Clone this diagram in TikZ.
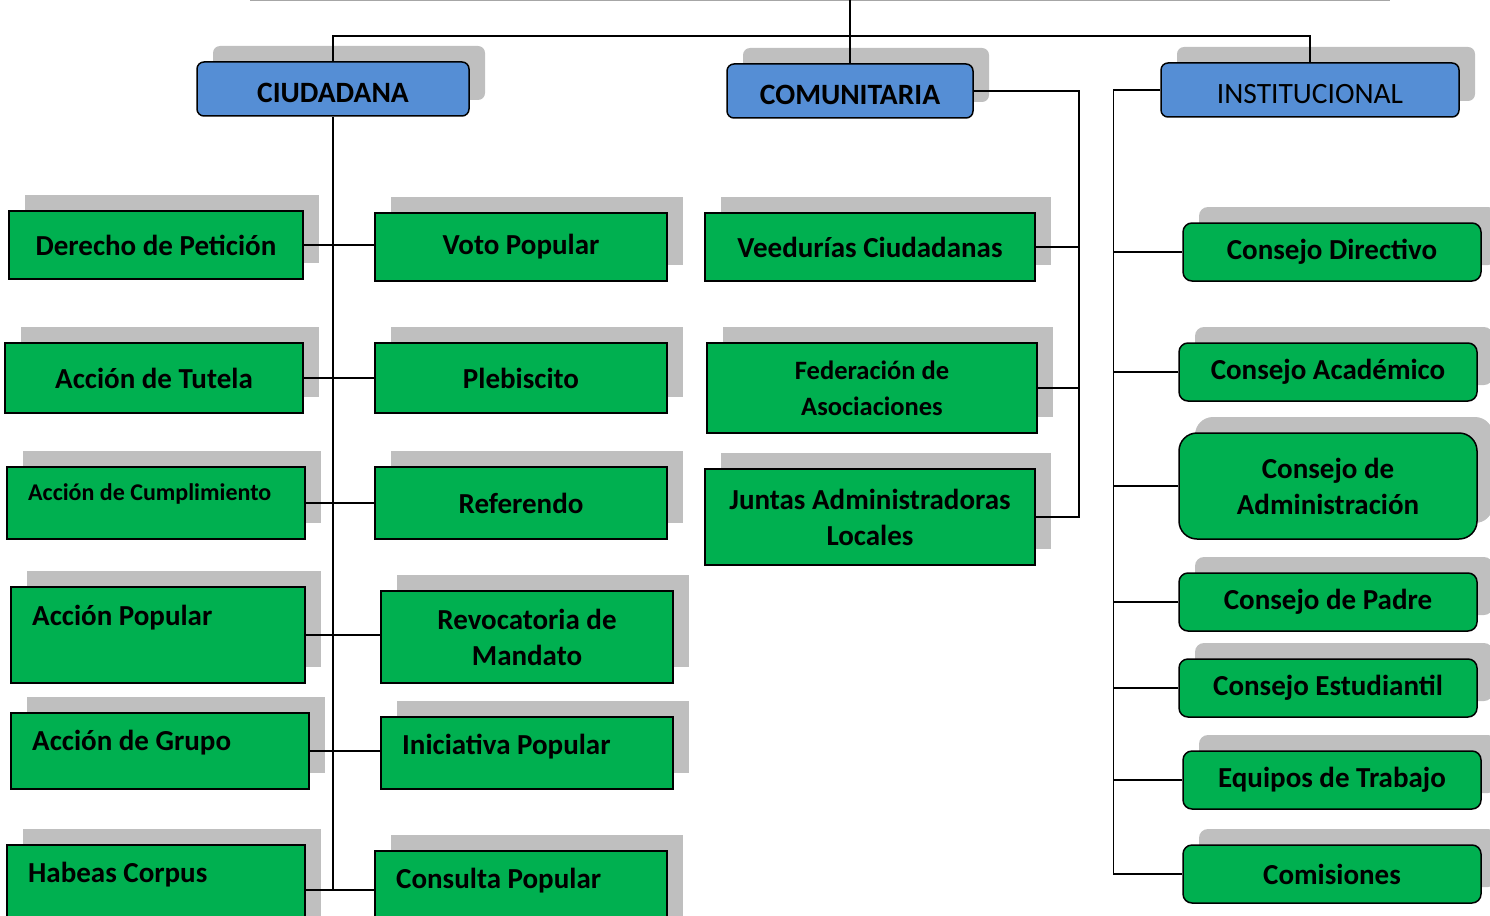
\documentclass[tikz,border=0pt]{standalone}
\usepackage{fontspec}
\setmainfont{Carlito}
\usetikzlibrary{shadows}
\definecolor{hblue}{HTML}{558ED5}
\definecolor{bgreen}{HTML}{00B050}
\definecolor{sgray}{HTML}{BFBFBF}
\begin{document}
\begin{tikzpicture}
[x=1pt,y=-1pt,
 ln/.style={line width=1.5pt},
 sh/.style={general shadow={fill=sgray,draw=none,shadow xshift=16pt,shadow yshift=16pt}},
 hd/.style={draw,sh,fill=hblue,line width=1.5pt,rounded corners=7pt,minimum height=54pt,text height=27pt,font=\fontsize{29.5}{32}\selectfont\bfseries},
 gb/.style={draw,sh,fill=bgreen,line width=1.5pt,align=center,font=\fontsize{29}{36}\selectfont\bfseries},
 gr/.style={gb,rounded corners=9pt},
 tx/.style={anchor=west,inner sep=0pt,font=\fontsize{29}{36}\selectfont\bfseries}]
\useasboundingbox (0,0) rectangle (1490,915);
\draw [gray!70,line width=2pt] (250,0) -- (1390,0);

\node [hd,minimum width=272] at (333,89) (ciu) {CIUDADANA};
\node [hd,minimum width=246] at (850,91) (com) {COMUNITARIA};
\node [hd,minimum width=298,font=\fontsize{29.5}{32}\selectfont] at (1310,90) (ins) {INSTITUCIONAL};

\node [gb,minimum width=294,minimum height=68] at (156,245) (dpet) {Derecho de Petición};
\node [gb,minimum width=292,minimum height=68] at (521,247) (voto) {Voto Popular};
\node [gb,minimum width=298,minimum height=70] at (154,378) (tut) {Acción de Tutela};
\node [gb,minimum width=292,minimum height=70] at (521,378) (pleb) {Plebiscito};
\node [gb,minimum width=298,minimum height=72] at (156,503) (cump) {};
\node [tx,font=\fontsize{24}{26}\selectfont\bfseries] at (28,494) (cumpt) {Acción de Cumplimiento};
\node [gb,minimum width=292,minimum height=72] at (521,503) (ref) {Referendo};
\node [gb,minimum width=294,minimum height=96] at (158,635) (apop) {};
\node [tx] at (32,618) (apopt) {Acción Popular};
\node [gb,minimum width=292,minimum height=92] at (527,637) (rev) {Revocatoria de\\Mandato};
\node [gb,minimum width=298,minimum height=76] at (160,751) (agr) {};
\node [tx] at (32,743) (agrt) {Acción de Grupo};
\node [gb,minimum width=292,minimum height=72] at (527,753) (ini) {};
\node [tx] at (402,747) (init) {Iniciativa Popular};
\node [gb,minimum width=298,minimum height=90] at (156,890) (hab) {};
\node [tx] at (28,875) (habt) {Habeas Corpus};
\node [gb,minimum width=292,minimum height=84] at (521,893) (cpop) {};
\node [tx] at (396,881) (cpopt) {Consulta Popular};

\node [gb,minimum width=330,minimum height=68] at (870,247) (vee) {Veedurías Ciudadanas};
\node [gb,minimum width=330,minimum height=90,font=\fontsize{26.5}{36}\selectfont\bfseries] at (872,388) (fed) {Federación de\\Asociaciones};
\node [gb,minimum width=330,minimum height=96] at (870,517) (jun) {Juntas Administradoras\\Locales};

\node [gr,minimum width=298,minimum height=58] at (1332,252) (cdir) {Consejo Directivo};
\node [gr,minimum width=298,minimum height=58] at (1328,372) (caca) {Consejo Académico};
\node [gr,minimum width=298,minimum height=106,rounded corners=18pt] at (1328,486) (cadm) {Consejo de\\Administración};
\node [gr,minimum width=298,minimum height=58] at (1328,602) (cpad) {Consejo de Padre};
\node [gr,minimum width=298,minimum height=58] at (1328,688) (cest) {Consejo Estudiantil};
\node [gr,minimum width=298,minimum height=58] at (1332,780) (equi) {Equipos de Trabajo};
\node [gr,minimum width=298,minimum height=58] at (1332,874) (comi) {Comisiones};

\draw [ln] (com.north) -- (com.north |- 0,0);
\draw [ln] (ciu.north) -- ++(0,-25) -| (ins.north);

\draw [ln] (ciu.south) -- (ciu.south |- hab.east);
\draw [ln] (dpet.east) -- (dpet.east -| voto.west);
\draw [ln] (tut.east) -- (tut.east -| pleb.west);
\draw [ln] (cump.east) -- (cump.east -| ref.west);
\draw [ln] (apop.east) -- (apop.east -| rev.west);
\draw [ln] (agr.east) -- (agr.east -| ini.west);
\draw [ln] (hab.east) -- (hab.east -| cpop.west);

\draw [ln] (com.east) -- ++(105,0) coordinate (ctop) -- (ctop |- jun.east) -- (jun.east);
\draw [ln] (vee.east) -- (vee.east -| ctop);
\draw [ln] (fed.east) -- (fed.east -| ctop);

\draw [ln] (ins.west) -- ++(-47,0) coordinate (itop) -- (itop |- comi.west) -- (comi.west);
\draw [ln] (cdir.west) -- (cdir.west -| itop);
\draw [ln] (caca.west) -- (caca.west -| itop);
\draw [ln] (cadm.west) -- (cadm.west -| itop);
\draw [ln] (cpad.west) -- (cpad.west -| itop);
\draw [ln] (cest.west) -- (cest.west -| itop);
\draw [ln] (equi.west) -- (equi.west -| itop);
\end{tikzpicture}
\end{document}
